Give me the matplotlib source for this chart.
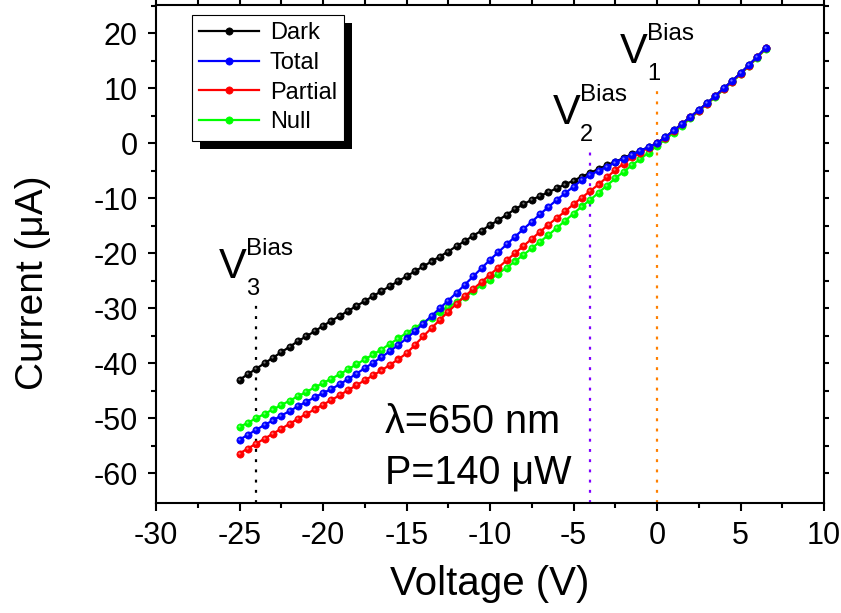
import numpy as np
import matplotlib
matplotlib.use("Agg")
import matplotlib.pyplot as plt
from matplotlib.patches import Rectangle
from matplotlib.transforms import offset_copy, IdentityTransform
from matplotlib.colors import to_rgb

plt.rcParams['font.family'] = ['Liberation Sans', 'DejaVu Sans']
plt.rcParams['axes.unicode_minus'] = False

# Bias sweep (V)
voltage = [-25.0, -24.5, -24.0, -23.5, -23.0, -22.5, -22.0, -21.5, -21.0, -20.5,
           -20.0, -19.5, -19.0, -18.5, -18.0, -17.5, -17.0, -16.5, -16.0, -15.5,
           -15.0, -14.5, -14.0, -13.5, -13.0, -12.5, -12.0, -11.5, -11.0, -10.5,
           -10.0, -9.5, -9.0, -8.5, -8.0, -7.5, -7.0, -6.5, -6.0, -5.5,
           -5.0, -4.5, -4.0, -3.5, -3.0, -2.5, -2.0, -1.5, -1.0, -0.5,
           0.0, 0.5, 1.0, 1.5, 2.0, 2.5, 3.0, 3.5, 4.0, 4.5, 5.0, 5.5, 6.0, 6.5]

# Measured currents (uA)
dark = [-43.0, -42.0, -41.0, -40.0, -39.0, -38.0, -37.0, -36.0, -35.1, -34.2,
        -33.2, -32.3, -31.4, -30.5, -29.6, -28.7, -27.8, -26.9, -26.0, -25.1,
        -24.2, -23.3, -22.4, -21.5, -20.6, -19.7, -18.7, -17.8, -16.8, -15.9,
        -14.9, -14.0, -13.0, -12.0, -11.1, -10.3, -9.6, -8.9, -8.2, -7.5,
        -6.8, -6.1, -5.4, -4.7, -4.0, -3.4, -2.7, -2.0, -1.4, -0.7,
        0.0, 1.1, 2.3, 3.5, 4.8, 6.0, 7.3, 8.6, 10.0, 11.3, 12.7, 14.2, 15.7, 17.3]

total = [-53.9, -53.0, -52.1, -51.2, -50.4, -49.5, -48.7, -47.8, -47.0, -46.2,
         -45.4, -44.7, -43.8, -42.9, -41.9, -40.9, -39.9, -38.9, -37.8, -36.7,
         -35.5, -34.2, -32.8, -31.4, -30.0, -28.6, -27.2, -25.7, -24.2, -22.7,
         -21.2, -19.8, -18.4, -17.0, -15.6, -14.3, -12.9, -11.6, -10.3, -9.1,
         -7.9, -6.7, -5.8, -5.0, -4.3, -3.5, -2.8, -2.1, -1.4, -0.7,
         0.0, 1.1, 2.3, 3.5, 4.8, 6.0, 7.3, 8.6, 10.0, 11.3, 12.7, 14.2, 15.7, 17.3]

partial = [-56.4, -55.5, -54.6, -53.7, -52.8, -51.9, -51.0, -50.1, -49.2, -48.4,
           -47.5, -46.7, -45.8, -44.9, -44.0, -43.1, -42.2, -41.3, -40.3, -39.3,
           -38.2, -36.7, -35.1, -33.6, -32.1, -30.6, -29.2, -27.8, -26.5, -25.2,
           -23.9, -22.6, -21.3, -20.0, -18.7, -17.4, -16.1, -14.8, -13.6, -12.4,
           -11.1, -9.9, -8.7, -7.5, -6.2, -4.9, -3.7, -2.6, -1.7, -0.8,
           0.0, 1.0, 2.2, 3.4, 4.7, 5.9, 7.2, 8.5, 9.9, 11.2, 12.6, 14.1, 15.6, 17.2]

null = [-51.6, -50.8, -50.0, -49.2, -48.4, -47.6, -46.8, -46.0, -45.2, -44.4,
        -43.6, -42.8, -42.0, -41.1, -40.2, -39.3, -38.4, -37.5, -36.5, -35.5,
        -34.5, -33.6, -32.6, -31.7, -30.7, -29.8, -28.9, -27.9, -26.9, -25.8,
        -24.8, -23.7, -22.6, -21.5, -20.3, -19.1, -17.9, -16.7, -15.4, -14.1,
        -12.8, -11.5, -10.3, -9.0, -7.7, -6.4, -5.2, -4.0, -2.9, -1.7,
        -0.5, 0.7, 1.9, 3.2, 4.5, 5.8, 7.1, 8.4, 9.8, 11.1, 12.5, 14.0, 15.5, 17.1]

series_names = ["Dark", "Total", "Partial", "Null"]
series_data = [dark, total, partial, null]
series_colors = ["#000000", "#0000FF", "#FF0000", "#00FF00"]
series_z = [3, 6, 5, 4]

# Bias points marked with dotted verticals: (voltage, top current, colour, index)
bias_v = [0.0, -4.0, -24.0]
bias_top = [10.0, -1.0, -29.0]
bias_colors = ["#FF8000", "#8000FF", "#000000"]
bias_idx = ["1", "2", "3"]

fig = plt.figure(figsize=(8.41, 6.13), dpi=100)
ax = fig.add_axes([0.1855, 0.1794, 0.7943, 0.8124])

x = np.array(voltage)
handles = []
for name, ys, c, z in zip(series_names, series_data, series_colors, series_z):
    ys = np.array(ys)
    h, = ax.plot(x, ys, '-', color=c, lw=1.6, marker='o', ms=5.2,
                 mfc=c, mec=c, mew=0.5, zorder=z, label=name)
    light = tuple(0.55 * np.array(to_rgb(c)) + 0.45)
    ax.plot(x, ys, linestyle='none', marker='o', ms=1.6, mfc=light, mec='none',
            zorder=z + 0.1,
            transform=offset_copy(ax.transData, fig=fig, x=-0.9, y=0.9, units='dots'))
    handles.append(h)

# Dotted bias lines
for v, top, c in zip(bias_v, bias_top, bias_colors):
    ax.plot([v, v], [-65.4, top], color=c, lw=1.6, linestyle=(0, (1.3, 3.3)),
            zorder=2, solid_capstyle='butt', dash_capstyle='butt')

# V^Bias labels: V, superscript "Bias", subscript index
for v, top, idx in zip(bias_v, bias_top, bias_idx):
    tr_v = offset_copy(ax.transData, fig=fig, x=-37, y=25, units='dots')
    tr_sup = offset_copy(ax.transData, fig=fig, x=-10, y=48, units='dots')
    tr_sub = offset_copy(ax.transData, fig=fig, x=-10, y=8, units='dots')
    ax.text(v, top, "V", transform=tr_v, fontsize=30, ha='left', va='baseline')
    ax.text(v, top, "Bias", transform=tr_sup, fontsize=17.5, ha='left', va='baseline')
    ax.text(v, top, idx, transform=tr_sub, fontsize=17, ha='left', va='baseline')

ax.text(-16.3, -52.7, "\u03bb=650 nm", fontsize=28.5, ha='left', va='baseline')
ax.text(-16.3, -61.8, "P=140 \u03bcW", fontsize=28.5, ha='left', va='baseline')

ax.set_xlim(-30, 10)
ax.set_ylim(-65.4, 25.1)
ax.set_xticks(np.arange(-30, 11, 5))
ax.set_xticks(np.arange(-27.5, 10, 5), minor=True)
ax.set_yticks(np.arange(-60, 21, 10))
ax.set_yticks(np.arange(-55, 26, 10), minor=True)

ax.set_xlabel("Voltage (V)", fontsize=29, labelpad=10)
ax.set_ylabel("Current (\u03bcA)", fontsize=28)
ax.yaxis.set_label_coords(-0.157, 0.442)

for sp in ax.spines.values():
    sp.set_linewidth(1.5)
ax.tick_params(axis='both', which='major', direction='out', length=6, width=1.5,
               labelsize=22, pad=7, top=True, right=True)
ax.tick_params(axis='both', which='minor', direction='out', length=3.5, width=1.5,
               top=True, right=True)
for t in ax.xaxis.get_major_ticks() + ax.yaxis.get_major_ticks():
    t.tick2line.set_markersize(3.5)

leg = ax.legend(handles=handles, loc='upper left', bbox_to_anchor=(0.054, 0.98),
                borderaxespad=0, fontsize=17, numpoints=1, handlelength=2.55,
                handletextpad=0.45, labelspacing=0.33, borderpad=0.3,
                frameon=True, fancybox=False, edgecolor='black', framealpha=1,
                facecolor='white')
leg.get_frame().set_linewidth(0.8)
leg.set_zorder(10)

fig.canvas.draw()
bb = leg.get_window_extent()
ax.add_patch(Rectangle((bb.x0 + 8, bb.y0 - 8), bb.width, bb.height,
                       transform=IdentityTransform(), facecolor='black',
                       edgecolor='none', zorder=9.5, clip_on=False))

fig.savefig("out.png", dpi=100)
